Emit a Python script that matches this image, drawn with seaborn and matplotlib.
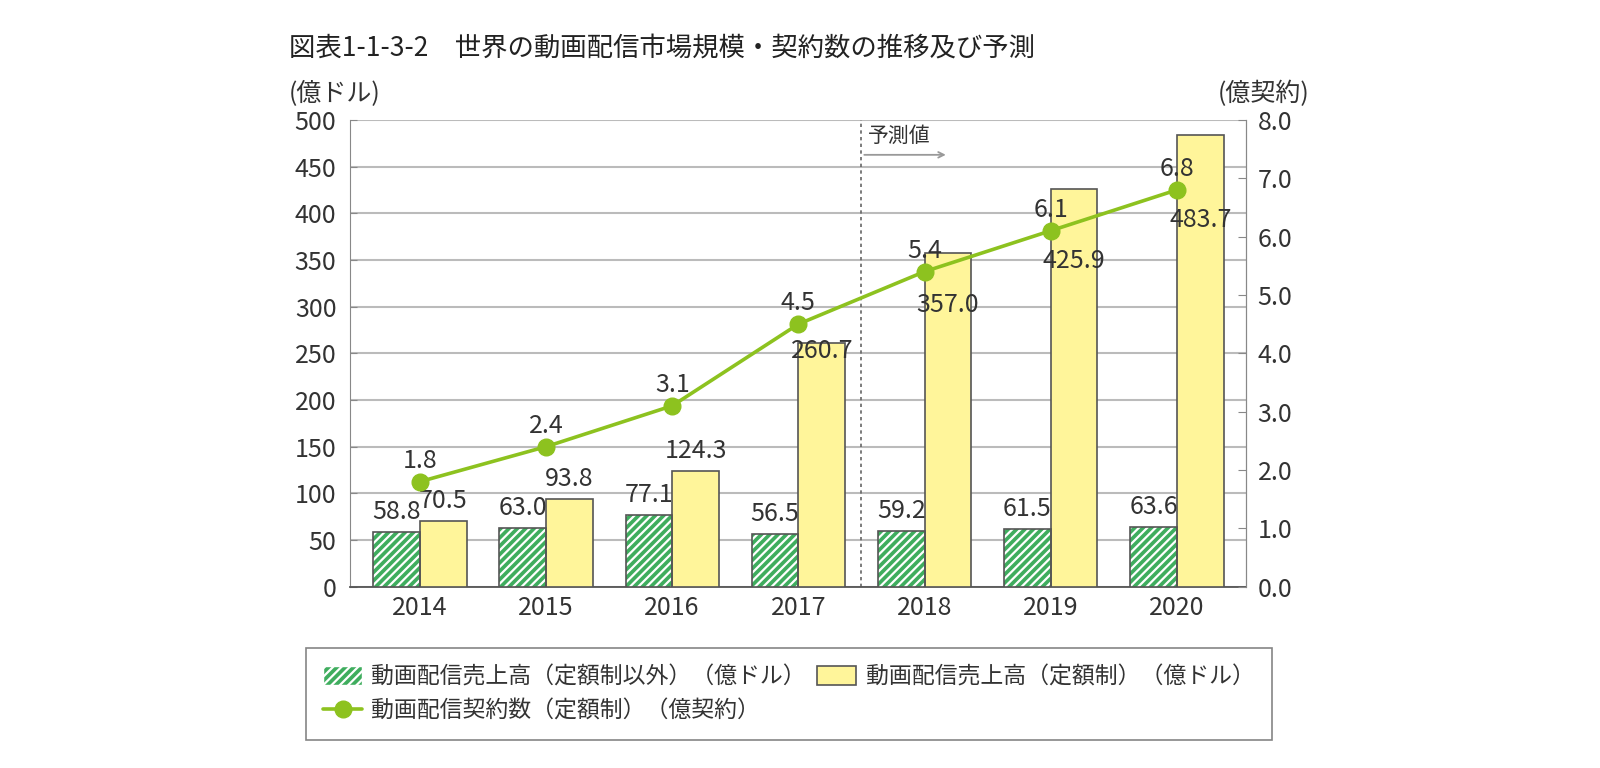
import pandas as pd
import matplotlib
matplotlib.use("Agg")
import matplotlib.pyplot as plt
from matplotlib.patches import Rectangle, Patch
from matplotlib.lines import Line2D
import seaborn as sns

years = ["2014", "2015", "2016", "2017", "2018", "2019", "2020"]
sales_other = [58.8, 63.0, 77.1, 56.5, 59.2, 61.5, 63.6]
sales_flat = [70.5, 93.8, 124.3, 260.7, 357.0, 425.9, 483.7]
subscribers = [1.8, 2.4, 3.1, 4.5, 5.4, 6.1, 6.8]

name_other = "動画配信売上高（定額制以外）（億ドル）"
name_flat = "動画配信売上高（定額制）（億ドル）"
name_subs = "動画配信契約数（定額制）（億契約）"

GREEN = "#3FAD5E"
YELLOW = "#FFF59A"
LIME = "#8DC21F"
EDGE = "#555555"
GRID = "#BBBBBB"
TXT = "#333333"
FS = 18

sns.set_style("white")
plt.rcParams["font.family"] = ["Noto Sans CJK JP", "DejaVu Sans"]
plt.rcParams["hatch.linewidth"] = 1.6

df = pd.DataFrame({
    "year": years * 2,
    "value": sales_other + sales_flat,
    "series": [name_other] * len(years) + [name_flat] * len(years),
})

fig = plt.figure(figsize=(16, 7.68), dpi=100)
ax = fig.add_axes([0.219, 0.236, 0.560, 0.608])

sns.barplot(data=df, x="year", y="value", hue="series", order=years,
            hue_order=[name_other, name_flat], palette=[GREEN, YELLOW],
            saturation=1, width=0.74, gap=0, ax=ax, legend=False, zorder=3)

green_bars = ax.patches[:len(years)]
yellow_bars = ax.patches[len(years):2 * len(years)]
for p in green_bars:
    p.set_edgecolor("white")
    p.set_hatch("////")
    p.set_linewidth(0)
    ax.add_patch(Rectangle((p.get_x(), 0), p.get_width(), p.get_height(),
                           fill=False, edgecolor=EDGE, linewidth=1.2, zorder=4))
for p in yellow_bars:
    p.set_edgecolor(EDGE)
    p.set_linewidth(1.2)

ax.set_ylim(0, 500)
ax.set_yticks(range(0, 501, 50))
ax.set_xlim(-0.55, len(years) - 0.45)
ax.yaxis.grid(True, color=GRID, linewidth=1.5, zorder=0)
ax.set_axisbelow(True)
ax.set_xlabel("")
ax.set_ylabel("")
ax.spines["top"].set_visible(False)
ax.spines["left"].set_color("#888888")
ax.spines["right"].set_color("#888888")
ax.spines["bottom"].set_color("#555555")
ax.spines["bottom"].set_linewidth(1.3)
ax.tick_params(axis="y", direction="in", length=5, color="#888888",
               labelsize=FS, labelcolor=TXT, pad=10)
ax.tick_params(axis="x", length=0, labelsize=FS, labelcolor=TXT, pad=6)
ax.set_xticks(range(len(years)), years)
# boundary ticks between categories
ax.set_xticks([i + 0.5 for i in range(len(years) - 1)], minor=True)
ax.tick_params(axis="x", which="minor", direction="in", length=7,
               color="#555555", width=1.2)

# bar labels
for i, p in enumerate(green_bars):
    ax.annotate(f"{sales_other[i]:.1f}", (p.get_x() + p.get_width() / 2, p.get_height()),
                xytext=(0, 20), textcoords="offset pixels", ha="center", va="center",
                fontsize=FS, color=TXT, zorder=6)
inside_offsets = [20, 20, 20, -8, -52, -72, -85]
for i, p in enumerate(yellow_bars):
    ax.annotate(f"{sales_flat[i]:.1f}", (p.get_x() + p.get_width() / 2, p.get_height()),
                xytext=(0, inside_offsets[i]), textcoords="offset pixels",
                ha="center", va="center", fontsize=FS, color=TXT, zorder=6)

# forecast divider
ax.axvline(3.5, color="#666666", linestyle=(0, (2, 2)), linewidth=1.2, zorder=2)
ax.annotate("", xy=(4.19, 0.925), xytext=(3.5, 0.925), xycoords=("data", "axes fraction"),
            arrowprops=dict(arrowstyle="->", color="#999999", lw=1.3), zorder=5)
ax.text(3.55, 0.966, "予測値", transform=ax.get_xaxis_transform(), fontsize=15,
        color=TXT, ha="left", va="center")

# subscribers line on secondary axis
ax2 = ax.twinx()
ax2.plot(range(len(years)), subscribers, color=LIME, linewidth=2.6,
         marker="o", markersize=12, zorder=5)
ax2.set_ylim(0, 8)
ax2.set_yticks([i * 1.0 for i in range(9)])
ax2.set_yticklabels([f"{v:.1f}" for v in range(9)])
ax2.tick_params(axis="y", direction="in", length=6, color="#888888",
                labelsize=FS, labelcolor=TXT, pad=8)
for s in ["top", "left", "bottom"]:
    ax2.spines[s].set_visible(False)
ax2.spines["right"].set_color("#888888")
for i, v in enumerate(subscribers):
    ax2.annotate(f"{v:.1f}", (i, v), xytext=(0, 21), textcoords="offset pixels",
                 ha="center", va="center", fontsize=FS, color=TXT, zorder=6)

# titles and units
fig.text(289 / 1600, 1 - 48 / 768, "図表1-1-3-2　世界の動画配信市場規模・契約数の推移及び予測",
         fontsize=19, color="#222222", ha="left", va="center")
fig.text(289 / 1600, 1 - 94 / 768, "(億ドル)", fontsize=18, color=TXT,
         ha="left", va="center")
fig.text(1310 / 1600, 1 - 94 / 768, "(億契約)", fontsize=18, color=TXT,
         ha="right", va="center")

# legend
h_other = Patch(facecolor=GREEN, edgecolor="white", hatch="////", label=name_other)
h_flat = Patch(facecolor=YELLOW, edgecolor=EDGE, linewidth=1.2, label=name_flat)
h_subs = Line2D([], [], color=LIME, linewidth=2.6, marker="o", markersize=12, label=name_subs)
leg = fig.legend(handles=[h_other, h_subs, h_flat], ncol=2, loc="upper left",
                 bbox_to_anchor=(306 / 1600, 1 - 648 / 768), fontsize=16.5,
                 frameon=True, fancybox=False, edgecolor="#666666", borderaxespad=0,
                 handlelength=1.7, handleheight=0.9, handletextpad=0.4,
                 columnspacing=0.5, labelspacing=0.5, borderpad=0.75)
leg.get_frame().set_linewidth(1.2)
for t in leg.get_texts():
    t.set_color(TXT)

fig.savefig("out.png", dpi=100)
